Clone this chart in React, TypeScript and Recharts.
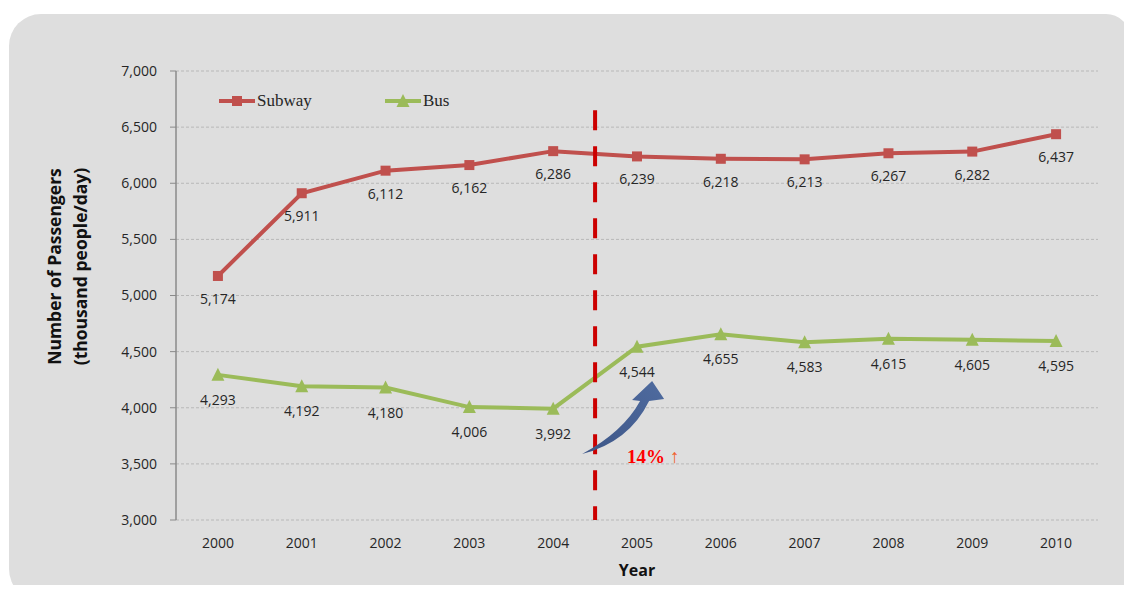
import React from 'react';
import {
  LineChart,
  Line,
  XAxis,
  YAxis,
  CartesianGrid,
  ReferenceLine,
  ReferenceDot,
  Legend,
  LabelList,
} from 'recharts';

// ---------- data ----------
const YEARS = ['2000', '2001', '2002', '2003', '2004', '2005', '2006', '2007', '2008', '2009', '2010'];
const SUBWAY = [5174, 5911, 6112, 6162, 6286, 6239, 6218, 6213, 6267, 6282, 6437];
const BUS = [4293, 4192, 4180, 4006, 3992, 4544, 4655, 4583, 4615, 4605, 4595];
const Y_TICKS = [3000, 3500, 4000, 4500, 5000, 5500, 6000, 6500, 7000];
const Y_DOMAIN = [3000, 7000];
const SERIES_ORDER = ['subway', 'bus'];
const POLICY_BOUNDARY = 4.5; // between 2004 and 2005
const POLICY_LINE_TOP = 6650;
const ARROW_ANCHOR_Y = 3500;
const ANNOTATION_TEXT = '14%';
const ANNOTATION_ARROW = '↑';
const Y_TITLE_1 = 'Number of Passengers';
const Y_TITLE_2 = '(thousand people/day)';
const X_TITLE = 'Year';

const data = YEARS.map((year, i) => ({ i, year, subway: SUBWAY[i], bus: BUS[i] }));
const YEAR_TICKS = YEARS.map((_, i) => i);
const BOUNDARY_TICKS = YEARS.map((_, i) => i - 0.5).concat([YEARS.length - 0.5]);
const X_DOMAIN = [-0.5, YEARS.length - 0.5];

// ---------- styles ----------
const RED = '#c0504d';
const GREEN = '#9bbb59';
const AXIS = '#8a8a8a';
const TEXT = '#262626';
const SANS = '"Open Sans", sans-serif';
const SERIF = '"Liberation Serif", "Times New Roman", serif';
const fmt = (v: number) => v.toLocaleString('en-US');

const SquareDot = (p: any) => (
  <rect key={`s${p.index}`} x={p.cx - 5} y={p.cy - 5} width={10} height={10} fill={RED} />
);
const TriDot = (p: any) => (
  <polygon
    key={`t${p.index}`}
    points={`${p.cx},${p.cy - 7} ${p.cx - 6.5},${p.cy + 6} ${p.cx + 6.5},${p.cy + 6}`}
    fill={GREEN}
  />
);

const makeLabel = (dy: number) => (p: any) => (
  <text
    key={`l${p.index}-${dy}`}
    x={p.x}
    y={p.y + dy}
    dy="0.36em"
    textAnchor="middle"
    fontFamily={SANS}
    fontSize={14}
    fill={TEXT}
  >
    {fmt(p.value)}
  </text>
);

const ArrowShape = (p: any) => {
  const { cx, cy } = p;
  const P = (x: number, y: number) => `${cx + x},${cy + y}`;
  const d = `M${P(-13, -10)} Q${P(34, -22)} ${P(54, -63)} L${P(69, -65)} L${P(57, -83)} L${P(37, -64)} L${P(45, -63)} Q${P(28, -32)} ${P(-13, -10)} Z`;
  return (
    <g>
      <defs>
        <linearGradient id="arrowGrad" x1="0" y1="1" x2="1" y2="0">
          <stop offset="0%" stopColor="#3d5687" />
          <stop offset="100%" stopColor="#4f6b9f" />
        </linearGradient>
      </defs>
      <path d={d} fill="url(#arrowGrad)" />
      <text x={cx + 32} y={cy - 1} fontFamily={SERIF} fontSize={19}>
        <tspan fill="#ff0000" fontWeight="bold">{ANNOTATION_TEXT}</tspan>
        <tspan fill="#f0602a" dx={5}>{ANNOTATION_ARROW}</tspan>
      </text>
    </g>
  );
};

const LegendContent = (props: any) => {
  const items = [...(props.payload || [])].sort(
    (a: any, b: any) => SERIES_ORDER.indexOf(a.dataKey) - SERIES_ORDER.indexOf(b.dataKey)
  );
  return (
    <div style={{ display: 'flex', alignItems: 'center', height: 20 }}>
      {items.map((it: any) => {
        const isSub = it.dataKey === 'subway';
        const c = isSub ? RED : GREEN;
        return (
          <div key={it.value} style={{ display: 'flex', alignItems: 'center', width: 166 }}>
            <svg width={36} height={16} style={{ display: 'block' }}>
              <line x1={0} x2={36} y1={8} y2={8} stroke={c} strokeWidth={4} />
              {isSub ? (
                <rect x={13} y={3} width={10} height={10} fill={c} />
              ) : (
                <polygon points="18,1 11.5,14 24.5,14" fill={c} />
              )}
            </svg>
            <span style={{ fontFamily: SERIF, fontSize: 17, color: TEXT, marginLeft: 2 }}>{it.value}</span>
          </div>
        );
      })}
    </div>
  );
};

const YTitle = (p: any) => {
  const vb = p.viewBox || { x: 0, y: 71, width: 176, height: 448 };
  const cy = vb.y + vb.height / 2 - 29;
  return (
    <g fontFamily={SANS} fontSize={17.5} fontWeight="bold" fill="#111">
      <text x={55} y={cy} textAnchor="middle" dy="0.36em" transform={`rotate(-90 55 ${cy})`}>
        {Y_TITLE_1}
      </text>
      <text x={81} y={cy} textAnchor="middle" dy="0.36em" transform={`rotate(-90 81 ${cy})`}>
        {Y_TITLE_2}
      </text>
    </g>
  );
};

const XTitle = (p: any) => {
  const vb = p.viewBox || { x: 176, y: 519, width: 921, height: 30 };
  return (
    <text
      x={vb.x + vb.width / 2}
      y={vb.y + 50}
      dy="0.36em"
      textAnchor="middle"
      fontFamily={SANS}
      fontSize={16}
      fontWeight="bold"
      fill="#111"
    >
      {X_TITLE}
    </text>
  );
};

export default function App() {
  return (
    <div style={{ position: 'relative', width: 1132, height: 593, margin: -8, background: '#fff', overflow: 'hidden' }}>
      <div
        style={{
          position: 'absolute',
          left: 9,
          top: 14,
          width: 1121,
          height: 587,
          background: '#dedede',
          borderRadius: '32px 24px 32px 32px',
        }}
      />
      <div style={{ position: 'absolute', left: 0, top: 0 }}>
        <LineChart
          width={1132}
          height={593}
          data={data}
          margin={{ top: 71, right: 34, bottom: 23, left: 0 }}
        >
          <CartesianGrid vertical={false} stroke="#b8b8b8" strokeDasharray="3 2" xAxisId="bounds" />
          <XAxis
            xAxisId="bounds"
            dataKey="i"
            type="number"
            domain={X_DOMAIN}
            ticks={BOUNDARY_TICKS}
            tick={false}
            tickSize={6}
            height={0}
            axisLine={{ stroke: AXIS, strokeWidth: 1.5 }}
            tickLine={{ stroke: AXIS }}
            allowDataOverflow
          />
          <XAxis
            xAxisId="main"
            dataKey="i"
            type="number"
            domain={X_DOMAIN}
            ticks={YEAR_TICKS}
            tickFormatter={(v: number) => YEARS[v]}
            tickLine={false}
            axisLine={false}
            tickSize={6}
            tickMargin={12}
            height={30}
            interval={0}
            tick={{ fontFamily: SANS, fontSize: 14, fill: TEXT }}
            label={{ content: XTitle }}
            allowDataOverflow
          />
          <YAxis
            width={176}
            domain={Y_DOMAIN}
            ticks={Y_TICKS}
            tickFormatter={fmt}
            tickSize={6}
            tickMargin={13}
            axisLine={{ stroke: AXIS, strokeWidth: 1.5 }}
            tickLine={{ stroke: AXIS }}
            tick={{ fontFamily: SANS, fontSize: 14, fill: TEXT }}
            interval={0}
            label={{ content: YTitle }}
          />
          <Legend
            content={LegendContent}
            wrapperStyle={{ position: 'absolute', left: 219, top: 91, width: 'auto' }}
          />
          <Line
            xAxisId="main"
            dataKey="subway"
            name="Subway"
            stroke={RED}
            strokeWidth={4}
            dot={SquareDot}
            activeDot={false}
            isAnimationActive={false}
          >
            <LabelList dataKey="subway" content={makeLabel(23)} />
          </Line>
          <Line
            xAxisId="main"
            dataKey="bus"
            name="Bus"
            stroke={GREEN}
            strokeWidth={4}
            dot={TriDot}
            activeDot={false}
            isAnimationActive={false}
          >
            <LabelList dataKey="bus" content={makeLabel(25)} />
          </Line>
          <ReferenceLine
            xAxisId="main"
            segment={[
              { x: POLICY_BOUNDARY, y: POLICY_LINE_TOP },
              { x: POLICY_BOUNDARY, y: Y_DOMAIN[0] },
            ]}
            stroke="#cc0000"
            strokeWidth={4}
            strokeDasharray="20 16"
          />
          <ReferenceDot
            xAxisId="main"
            x={POLICY_BOUNDARY}
            y={ARROW_ANCHOR_Y}
            shape={ArrowShape}
          />
        </LineChart>
      </div>
    </div>
  );
}
